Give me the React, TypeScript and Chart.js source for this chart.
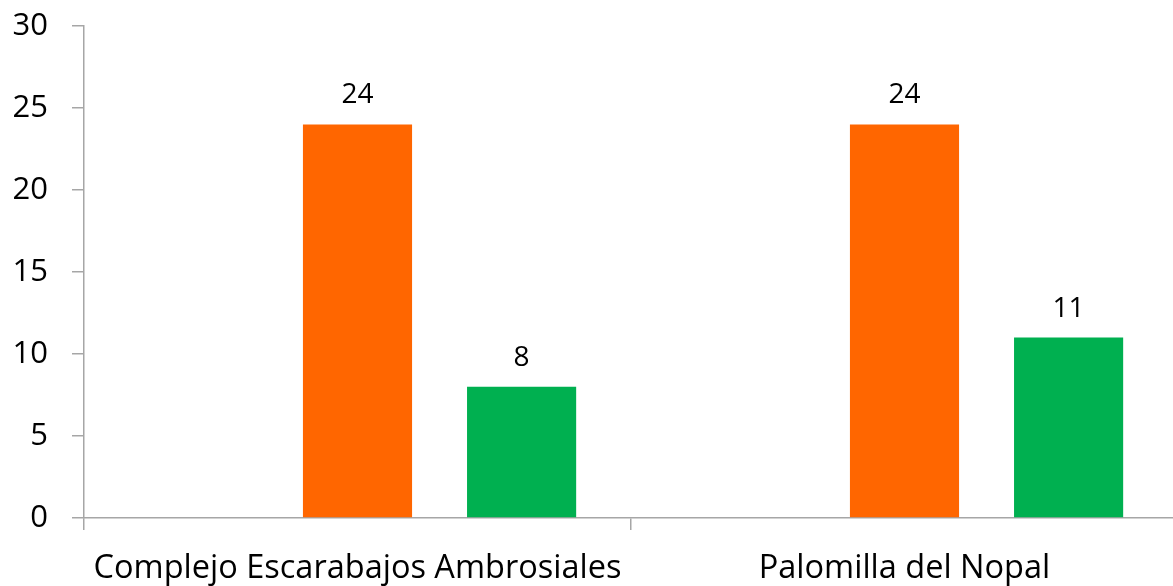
import React, { useEffect, useRef } from "react";
import { Chart, registerables } from "chart.js";

Chart.register(...registerables);

const categories = ["Complejo Escarabajos Ambrosiales", "Palomilla del Nopal"];
const seriesBlank: (number | null)[] = [null, null];
const seriesOrange = [24, 24];
const seriesGreen = [8, 11];
const yTicks = [0, 5, 10, 15, 20, 25, 30];

const FONT = "'Open Sans', sans-serif";

const valueLabels = {
  id: "valueLabels",
  afterDatasetsDraw(chart: any) {
    const ctx = chart.ctx;
    ctx.save();
    ctx.font = `28px ${FONT}`;
    ctx.fillStyle = "#000";
    ctx.textAlign = "center";
    ctx.textBaseline = "alphabetic";
    chart.data.datasets.forEach((ds: any, di: number) => {
      if (di === 0) return;
      const meta = chart.getDatasetMeta(di);
      meta.data.forEach((el: any, i: number) => {
        const v = ds.data[i];
        if (v == null) return;
        ctx.fillText(String(v), el.x, el.y - 21);
      });
    });
    ctx.restore();
  },
};

export default function App() {
  const ref = useRef<HTMLCanvasElement>(null);
  useEffect(() => {
    if (!ref.current) return;
    const axisColor = "#A6A6A6";
    const chart = new Chart(ref.current, {
      type: "bar",
      data: {
        labels: categories,
        datasets: [
          { label: "s0", data: seriesBlank, backgroundColor: "#4F81BD" },
          { label: "s1", data: seriesOrange, backgroundColor: "#FF6600" },
          { label: "s2", data: seriesGreen, backgroundColor: "#00B050" },
        ],
      },
      options: {
        responsive: false,
        animation: false,
        layout: { padding: { top: 26, right: 0, left: 0, bottom: 0 } },
        plugins: { legend: { display: false }, tooltip: { enabled: false } },
        datasets: { bar: { categoryPercentage: 0.9, barPercentage: 0.665 } },
        scales: {
          x: {
            grid: {
              offset: true,
              drawOnChartArea: false,
              drawTicks: true,
              tickLength: 12,
              color: axisColor,
              lineWidth: 1.5,
            },
            border: { color: axisColor, width: 1.5 },
            ticks: {
              font: { family: FONT, size: 32.5 },
              color: "#000",
              padding: 19,
              maxRotation: 0,
              autoSkip: false,
            },
            afterFit(scale: any) {
              scale.height = 68;
              scale.paddingLeft = 0;
              scale.paddingRight = 0;
            },
          },
          y: {
            min: 0,
            max: 30,
            afterBuildTicks(scale: any) {
              scale.ticks = yTicks.map((v) => ({ value: v }));
            },
            grid: {
              drawOnChartArea: false,
              drawTicks: true,
              tickLength: 12,
              color: axisColor,
              lineWidth: 1.5,
            },
            border: { color: axisColor, width: 1.5 },
            ticks: {
              font: { family: FONT, size: 31 },
              color: "#000",
              padding: 24,
            },
            afterFit(scale: any) {
              scale.width = 84;
              scale.paddingTop = 0;
              scale.paddingBottom = 0;
            },
          },
        },
      },
      plugins: [valueLabels],
    });
    return () => chart.destroy();
  }, []);
  return (
    <div
      style={{
        position: "absolute",
        left: 0,
        top: 0,
        width: 1173,
        height: 586,
        overflow: "hidden",
        background: "#fff",
      }}
    >
      <canvas ref={ref} width={1178} height={586} style={{ display: "block" }} />
    </div>
  );
}
